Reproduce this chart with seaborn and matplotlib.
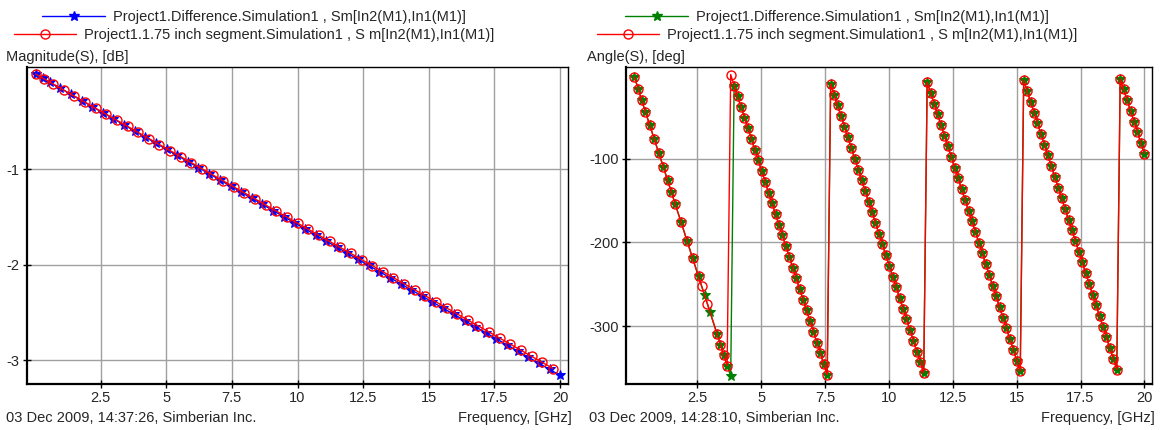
import matplotlib
matplotlib.use("Agg")
import matplotlib.pyplot as plt
from matplotlib.lines import Line2D
import seaborn as sns

# ---- Magnitude of S21, dB (left panel) ----
mag_freq_diff = [0.03, 0.30, 0.56, 0.97, 1.37, 1.78, 2.18, 2.59, 2.99, 3.40, 3.80, 4.21,
                 4.61, 5.02, 5.42, 5.83, 6.23, 6.64, 7.04, 7.45, 7.85, 8.26, 8.66, 9.07,
                 9.47, 9.88, 10.28, 10.69, 11.09, 11.50, 11.90, 12.31, 12.71, 13.12, 13.52,
                 13.93, 14.33, 14.74, 15.14, 15.55, 15.95, 16.36, 16.76, 17.17, 17.57,
                 17.98, 18.38, 18.79, 19.19, 19.60, 20.00]
mag_diff = [-0.005, -0.047, -0.088, -0.153, -0.216, -0.281, -0.344, -0.409, -0.472, -0.537,
            -0.600, -0.665, -0.728, -0.793, -0.856, -0.921, -0.984, -1.049, -1.112, -1.177,
            -1.240, -1.305, -1.368, -1.433, -1.496, -1.561, -1.624, -1.689, -1.752, -1.817,
            -1.880, -1.945, -2.008, -2.073, -2.136, -2.201, -2.264, -2.329, -2.392, -2.457,
            -2.520, -2.585, -2.648, -2.713, -2.776, -2.841, -2.904, -2.969, -3.032, -3.097,
            -3.160]

mag_freq_seg = [0.03, 0.36, 0.69, 1.10, 1.50, 1.91, 2.31, 2.72, 3.12, 3.53, 3.93, 4.34,
                4.74, 5.15, 5.55, 5.96, 6.36, 6.77, 7.17, 7.58, 7.98, 8.39, 8.79, 9.20,
                9.60, 10.01, 10.41, 10.82, 11.22, 11.63, 12.03, 12.44, 12.84, 13.25, 13.65,
                14.06, 14.46, 14.87, 15.27, 15.68, 16.08, 16.49, 16.89, 17.30, 17.70,
                18.11, 18.51, 18.92, 19.32, 19.73]
mag_seg = [-0.005, -0.056, -0.108, -0.172, -0.235, -0.299, -0.362, -0.426, -0.488, -0.552,
           -0.615, -0.679, -0.742, -0.806, -0.869, -0.933, -0.995, -1.060, -1.122, -1.186,
           -1.249, -1.313, -1.376, -1.440, -1.502, -1.567, -1.629, -1.693, -1.756, -1.820,
           -1.883, -1.947, -2.009, -2.074, -2.136, -2.200, -2.263, -2.327, -2.390, -2.454,
           -2.517, -2.581, -2.643, -2.707, -2.770, -2.834, -2.897, -2.961, -3.024, -3.088]

# ---- Phase of S21, deg (right panel) ----
# first sweep interval, where the two sweeps use different points
ang_freq_head_diff = [0.03, 0.18, 0.31, 0.46, 0.63, 0.81, 0.99, 1.16, 1.33, 1.48, 1.63,
                      1.86, 2.09, 2.31, 2.54, 2.78, 2.99, 3.26, 3.40, 3.53, 3.66, 3.80]
ang_head_diff = [-2.5, -16.7, -29.8, -44.0, -60.0, -77.0, -93.7, -109.5, -126.0, -140.0,
                 -154.5, -176.0, -198.0, -219.0, -240.5, -263.0, -283.0, -309.0, -322.0,
                 -334.0, -347.0, -359.5]
ang_freq_head_seg = [0.03, 0.18, 0.31, 0.46, 0.63, 0.81, 0.99, 1.16, 1.33, 1.48, 1.63,
                     1.86, 2.09, 2.31, 2.54, 2.66, 2.89, 3.26, 3.40, 3.53, 3.66, 3.80]
ang_head_seg = [-2.5, -16.7, -29.8, -44.0, -60.0, -77.0, -93.7, -109.5, -126.0, -140.0,
                -154.5, -176.0, -198.0, -219.0, -240.5, -252.0, -273.5, -309.0, -322.0,
                -334.0, -347.0, 0.5]

# remaining points, common to both sweeps
ang_freq_tail = [3.935, 4.070, 4.205, 4.340, 4.475, 4.610, 4.745, 4.880, 5.015, 5.150,
                 5.285, 5.420, 5.555, 5.690, 5.825, 5.960, 6.095, 6.230, 6.365, 6.500,
                 6.635, 6.770, 6.905, 7.040, 7.175, 7.310, 7.445, 7.580, 7.715, 7.850,
                 7.985, 8.120, 8.255, 8.390, 8.525, 8.660, 8.795, 8.930, 9.065, 9.200,
                 9.335, 9.470, 9.605, 9.740, 9.875, 10.010, 10.145, 10.280, 10.415, 10.550,
                 10.685, 10.820, 10.955, 11.090, 11.225, 11.360, 11.495, 11.630, 11.765,
                 11.900, 12.035, 12.170, 12.305, 12.440, 12.575, 12.710, 12.845, 12.980,
                 13.115, 13.250, 13.385, 13.520, 13.655, 13.790, 13.925, 14.060, 14.195,
                 14.330, 14.465, 14.600, 14.735, 14.870, 15.005, 15.140, 15.275, 15.410,
                 15.545, 15.680, 15.815, 15.950, 16.085, 16.220, 16.355, 16.490, 16.625,
                 16.760, 16.895, 17.030, 17.165, 17.300, 17.435, 17.570, 17.705, 17.840,
                 17.975, 18.110, 18.245, 18.380, 18.515, 18.650, 18.785, 18.920, 19.055,
                 19.190, 19.325, 19.460, 19.595, 19.730, 19.865, 20.000]
ang_tail = [-12.6, -25.4, -38.2, -51.0, -63.8, -76.6, -89.4, -102.1, -114.9, -127.7,
            -140.5, -153.3, -166.1, -178.8, -191.6, -204.4, -217.2, -230.0, -242.8, -255.6,
            -268.3, -281.1, -293.9, -306.7, -319.5, -332.3, -345.0, -357.8, -10.6, -23.4,
            -36.2, -49.0, -61.8, -74.5, -87.3, -100.1, -112.9, -125.7, -138.5, -151.2,
            -164.0, -176.8, -189.6, -202.4, -215.2, -228.0, -240.7, -253.5, -266.3, -279.1,
            -291.9, -304.7, -317.4, -330.2, -343.0, -355.8, -8.6, -21.4, -34.2, -46.9,
            -59.7, -72.5, -85.3, -98.1, -110.9, -123.6, -136.4, -149.2, -162.0, -174.8,
            -187.6, -200.3, -213.1, -225.9, -238.7, -251.5, -264.3, -277.1, -289.8, -302.6,
            -315.4, -328.2, -341.0, -353.8, -6.5, -19.3, -32.1, -44.9, -57.7, -70.5,
            -83.3, -96.0, -108.8, -121.6, -134.4, -147.2, -160.0, -172.7, -185.5, -198.3,
            -211.1, -223.9, -236.7, -249.5, -262.2, -275.0, -287.8, -300.6, -313.4, -326.2,
            -338.9, -351.7, -4.5, -17.3, -30.1, -42.9, -55.7, -68.4, -81.2, -94.0]

label_diff = "Project1.Difference.Simulation1 , Sm[In2(M1),In1(M1)]"
label_seg = "Project1.1.75 inch segment.Simulation1 , S m[In2(M1),In1(M1)]"
freq_ticks = [2.5, 5, 7.5, 10, 12.5, 15, 17.5, 20]
freq_tick_labels = ["2.5", "5", "7.5", "10", "12.5", "15", "17.5", "20"]
mag_ticks = [-1, -2, -3]
ang_ticks = [-100, -200, -300]

ang_freq_diff = ang_freq_head_diff + ang_freq_tail
ang_diff = ang_head_diff + ang_tail
ang_freq_seg = ang_freq_head_seg + ang_freq_tail
ang_seg = ang_head_seg + ang_tail

sns.set_theme(style="white")
plt.rcParams["font.family"] = ["Liberation Sans", "DejaVu Sans"]
FS = 10.5
plt.rcParams["font.size"] = FS

W, H = 1161, 430
fig = plt.figure(figsize=(W / 100, H / 100), dpi=100)
fig.patch.set_facecolor("white")


def fx(px):
    return px / W


def fy(py):
    return 1 - py / H


ax_mag = fig.add_axes([fx(27), fy(384), fx(568 - 27), (384 - 67) / H])
ax_ang = fig.add_axes([fx(626), fy(384), fx(1152 - 626), (384 - 67) / H])

BLUE, RED, GREEN = "#0000ff", "#ff0000", "#008000"
circle_kw = dict(marker="o", markersize=6.5, markerfacecolor="none",
                 markeredgecolor=RED, markeredgewidth=1.0)
star_size = 7.5

# magnitude panel
sns.lineplot(x=mag_freq_diff, y=mag_diff, ax=ax_mag, color=BLUE, lw=1.0,
             marker="*", markersize=star_size, markeredgecolor=BLUE, sort=False,
             estimator=None)
sns.lineplot(x=mag_freq_seg, y=mag_seg, ax=ax_mag, color=RED, lw=1.0,
             sort=False, estimator=None, **circle_kw)

# phase panel
sns.lineplot(x=ang_freq_diff, y=ang_diff, ax=ax_ang, color=GREEN, lw=1.0,
             marker="*", markersize=star_size, markeredgecolor=GREEN, sort=False,
             estimator=None)
sns.lineplot(x=ang_freq_seg, y=ang_seg, ax=ax_ang, color=RED, lw=1.0,
             sort=False, estimator=None, **circle_kw)

for ax, yt, ylim in ((ax_mag, mag_ticks, (-3.25, 0.07)),
                     (ax_ang, ang_ticks, (-369, 9.5))):
    ax.set_xlim(-0.3, 20.3)
    ax.set_ylim(*ylim)
    ax.set_xticks(freq_ticks)
    ax.set_xticklabels(freq_tick_labels)
    ax.set_yticks(yt)
    ax.set_yticklabels([str(v) for v in yt])
    ax.grid(True, color="#a0a0a0", lw=1.0)
    ax.set_axisbelow(True)
    ax.tick_params(direction="inout", length=5.8, width=1.0, color="black",
                   labelsize=FS, pad=2.5, bottom=True, left=True)
    for side, sp in ax.spines.items():
        sp.set_color("black")
        sp.set_linewidth(1.6 if side in ("left", "bottom") else 1.0)
        sp.set_visible(True)
    ax.set_xlabel("")
    ax.set_ylabel("")
    ax.set_facecolor("white")


# legends: one centred row per series
def legend_row(handle, label, cx, cy):
    fig.legend([handle], [label], loc="center", bbox_to_anchor=(fx(cx), fy(cy)),
               bbox_transform=fig.transFigure, frameon=False, numpoints=1,
               handlelength=4.3, handletextpad=0.55, borderpad=0.0,
               fontsize=FS)


h_blue = Line2D([], [], color=BLUE, lw=1.0, marker="*", markersize=star_size,
                markeredgecolor=BLUE)
h_green = Line2D([], [], color=GREEN, lw=1.0, marker="*", markersize=star_size,
                 markeredgecolor=GREEN)
h_red = Line2D([], [], color=RED, lw=1.0, **circle_kw)

legend_row(h_blue, label_diff, 254, 17)
legend_row(h_red, label_seg, 254, 35)
legend_row(h_green, label_diff, 837, 17)
legend_row(h_red, label_seg, 837, 35)

fig.text(fx(6), fy(57), "Magnitude(S), [dB]", ha="left", va="center", fontsize=FS)
fig.text(fx(587), fy(57), "Angle(S), [deg]", ha="left", va="center", fontsize=FS)

fig.text(fx(6), fy(418), "03 Dec 2009, 14:37:26, Simberian Inc.", ha="left",
         va="center", fontsize=FS)
fig.text(fx(572), fy(418), "Frequency, [GHz]", ha="right", va="center", fontsize=FS)
fig.text(fx(589), fy(418), "03 Dec 2009, 14:28:10, Simberian Inc.", ha="left",
         va="center", fontsize=FS)
fig.text(fx(1155), fy(418), "Frequency, [GHz]", ha="right", va="center", fontsize=FS)

fig.savefig("out.png", dpi=100, facecolor="white")
